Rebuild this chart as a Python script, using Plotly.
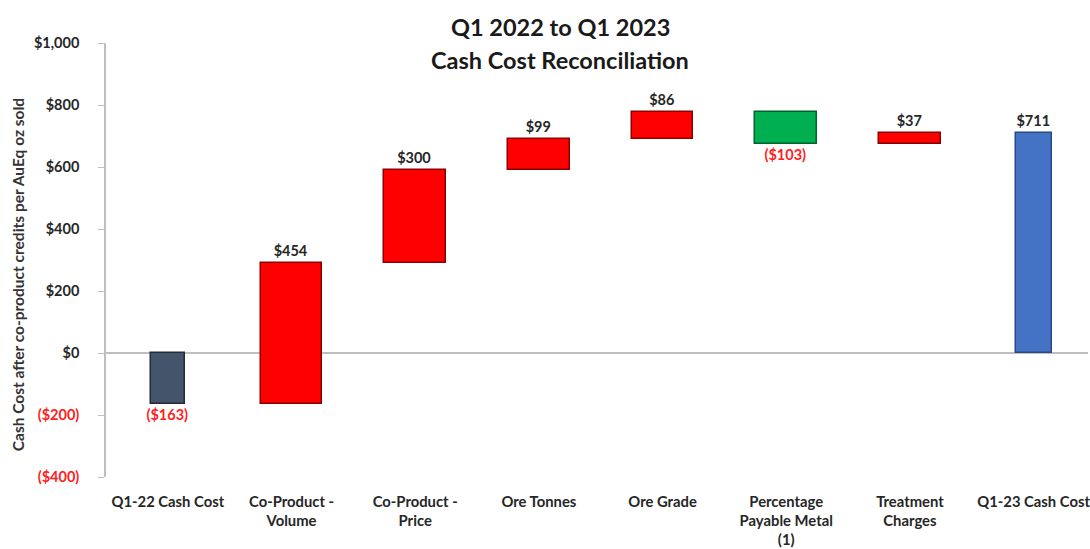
import plotly.graph_objects as go

categories = ["Q1-22 Cash Cost", "Co-Product -<br>Volume", "Co-Product -<br>Price", "Ore Tonnes",
              "Ore Grade", "Percentage<br>Payable Metal<br>(1)", "Treatment<br>Charges", "Q1-23 Cash Cost"]
values = [-163, 454, 300, 99, 86, -103, 37, 711]
measures = ["absolute", "relative", "relative", "relative", "relative", "relative", "relative", "total"]
y_tick_vals = [-400, -200, 0, 200, 400, 600, 800, 1000]
title_lines = ["Q1 2022 to Q1 2023", "Cash Cost Reconciliation"]
y_title = "Cash Cost after co-product credits per AuEq oz sold"

def money(v):
    return f"(${abs(v):,})" if v < 0 else f"${v:,}"

# compute waterfall bases
bases, heights = [], []
running = 0
for v, m in zip(values, measures):
    if m == "absolute":
        bases.append(0); heights.append(v); running = v
    elif m == "total":
        bases.append(0); heights.append(v)
    else:
        bases.append(running); heights.append(v); running += v

fill, edge, widths = [], [], []
for v, m in zip(values, measures):
    if m == "absolute":
        fill.append("#44546A"); edge.append("#222B38"); widths.append(0.28)
    elif m == "total":
        fill.append("#4472C4"); edge.append("#2A4A85"); widths.append(0.29)
    elif v >= 0:
        fill.append("#FF0000"); edge.append("#8B0000"); widths.append(0.5)
    else:
        fill.append("#00B050"); edge.append("#00632C"); widths.append(0.5)

text_colors = ["#FF2020" if v < 0 else "#262626" for v in values]

W, H = 1090, 549
ML, MR, MT, MB = 106, 0, 43, 72
PW, PH = W - ML - MR, H - MT - MB

fig = go.Figure()
fig.add_trace(go.Bar(
    x=list(range(len(categories))), y=heights, base=bases, width=widths,
    marker=dict(color=fill, line=dict(color=edge, width=1.5)),
    text=[money(v) for v in values], texttemplate="<b>%{text}</b>", textposition="outside",
    textfont=dict(family="Lato", size=14.5, color=text_colors),
    constraintext="none", cliponaxis=False, hoverinfo="skip",
))

tick_text = []
for v in y_tick_vals:
    if v < 0:
        tick_text.append(f'<span style="color:#FF2020">{money(v)}</span>')
    else:
        tick_text.append(money(v))

fig.update_layout(
    width=W, height=H,
    margin=dict(l=ML, r=MR, t=MT, b=MB),
    paper_bgcolor="white", plot_bgcolor="white",
    showlegend=False,
    font=dict(family="Lato", color="#262626"),
    bargap=0,
)
for i, line in enumerate(title_lines):
    fig.add_annotation(
        text=f"<b>{line}</b>", xref="paper", yref="paper",
        x=(561 - ML) / PW, y=1 + (MT - (27 + 33 * i)) / PH,
        xanchor="center", yanchor="middle", showarrow=False,
        font=dict(family="Lato", size=23.5, color="#1a1a1a"),
    )
fig.add_annotation(
    text=f"<b>{y_title}</b>", xref="paper", yref="paper",
    x=(18 - ML) / PW, y=(H - MB - 275) / PH, textangle=-90,
    xanchor="center", yanchor="middle", showarrow=False,
    font=dict(family="Lato", size=15.5, color="#333333"),
)
fig.update_xaxes(
    tickmode="array", tickvals=list(range(len(categories))),
    ticktext=[f"<b>{c}</b>" for c in categories],
    tickfont=dict(family="Lato", size=14.8, color="#262626"),
    range=[-0.5, 7.44], showline=False, showgrid=False, zeroline=False,
    ticks="", tickangle=0, ticklabelstandoff=14, ticklabeloverflow="allow",
)
fig.update_yaxes(
    range=[-400, 1000], tickmode="array", tickvals=y_tick_vals,
    ticktext=[f"<b>{t}</b>" for t in tick_text],
    tickfont=dict(family="Lato", size=14.5, color="#262626"),
    showgrid=False, zeroline=True, zerolinecolor="#BFBFBF", zerolinewidth=1.5,
    showline=True, linecolor="#BFBFBF", linewidth=1.5,
    ticks="outside", ticklen=6, tickcolor="#BFBFBF", ticklabelstandoff=16,
)
fig.write_html("out.html")
